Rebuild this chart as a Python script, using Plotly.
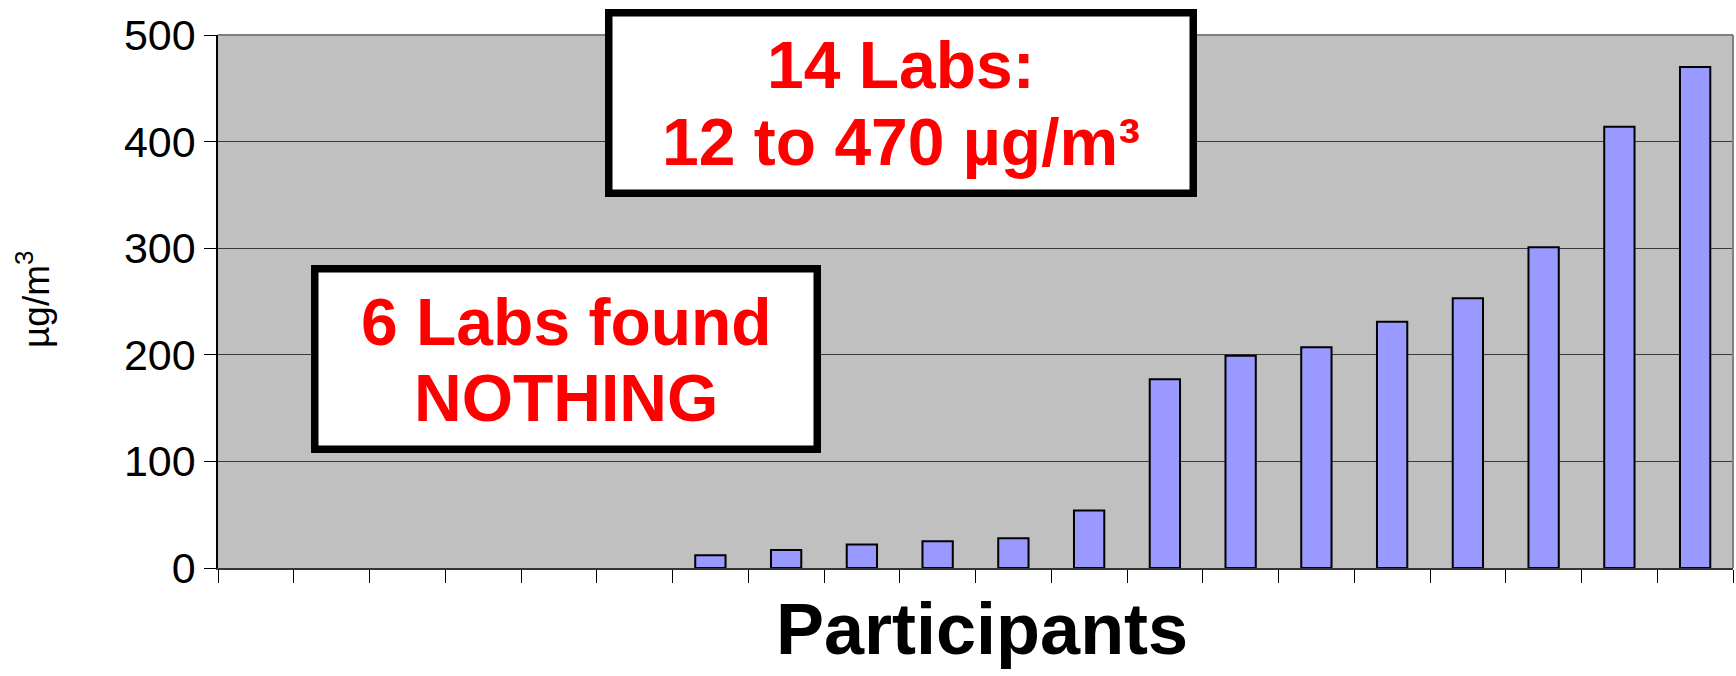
import plotly.graph_objects as go

# Participating laboratories (20) and their reported concentrations in µg/m³.
# Labs that found nothing have no value.
participants = [f"Lab {i}" for i in range(1, 21)]
concentrations = [None, None, None, None, None, None,
                  12, 17, 22, 25, 28, 54, 177, 199, 207, 231, 253, 301, 414, 470]
y_ticks = [0, 100, 200, 300, 400, 500]

FONT = "Liberation Sans, Arial, sans-serif"
W, H = 1736, 676
M_L, M_R, M_T, M_B = 218, 3, 35, 108
PW, PH = W - M_L - M_R, H - M_T - M_B


def px(x):
    """Horizontal pixel -> paper fraction."""
    return (x - M_L) / PW


def py(y):
    """Vertical pixel (from top) -> paper fraction."""
    return (H - M_B - y) / PH


found = [v for v in concentrations if v is not None]
n_found = len(found)
n_nothing = len(concentrations) - n_found

fig = go.Figure(
    go.Bar(
        x=participants,
        y=concentrations,
        width=0.4,
        marker=dict(color="#9999FF", line=dict(color="#000000", width=2)),
        showlegend=False,
    )
)

fig.update_layout(
    width=W,
    height=H,
    margin=dict(l=M_L, r=M_R, t=M_T, b=M_B, pad=0),
    paper_bgcolor="#FFFFFF",
    plot_bgcolor="#C0C0C0",
    font=dict(family=FONT, color="#000000"),
    xaxis=dict(
        type="category",
        categoryorder="array",
        categoryarray=participants,
        showticklabels=False,
        ticks="outside",
        tickson="boundaries",
        ticklen=13,
        tickcolor="#000000",
        tickwidth=1,
        showgrid=False,
        showline=True,
        linecolor="#333333",
        linewidth=1.5,
        zeroline=False,
    ),
    yaxis=dict(
        range=[0, 500],
        tickvals=y_ticks,
        ticks="outside",
        ticklen=12,
        tickcolor="#000000",
        tickwidth=1,
        tickfont=dict(size=43, family=FONT, color="#000000"),
        showgrid=True,
        gridcolor="#3a3a3a",
        gridwidth=1,
        showline=True,
        linecolor="#000000",
        linewidth=1.5,
        zeroline=False,
    ),
)

# top and right frame of the plot area
fig.add_shape(type="line", xref="paper", yref="paper", x0=0, x1=1, y0=1, y1=1,
              line=dict(color="#808080", width=2), layer="above")
fig.add_shape(type="line", xref="paper", yref="paper", x0=1, x1=1, y0=0, y1=1,
              line=dict(color="#808080", width=2), layer="above")

# callout boxes
BOX_LINE = 7.5
for (x0, y0, x1, y1) in [(605, 9, 1197, 197), (311, 265, 821, 453)]:
    h = BOX_LINE / 2
    fig.add_shape(
        type="rect", xref="paper", yref="paper",
        x0=px(x0 + h), x1=px(x1 - h), y0=py(y1 - h), y1=py(y0 + h),
        line=dict(color="#000000", width=BOX_LINE),
        fillcolor="#FFFFFF", layer="above",
    )

red = dict(family=FONT, size=66, color="#FF0000")
callouts = [
    (f"<b>{n_found} Labs:</b>", 901, 65.5),
    (f"<b>{min(found)} to {max(found)} µg/m³</b>", 901, 141.5),
    (f"<b>{n_nothing} Labs found</b>", 566, 322),
    ("<b>NOTHING</b>", 566, 398),
]
for text, cx, cy in callouts:
    fig.add_annotation(text=text, xref="paper", yref="paper", x=px(cx), y=py(cy),
                       xanchor="center", yanchor="middle", showarrow=False, font=red)

# axis titles
fig.add_annotation(text="<b>Participants</b>", xref="paper", yref="paper",
                   x=px(982), y=py(629), xanchor="center", yanchor="middle",
                   showarrow=False, font=dict(family=FONT, size=72, color="#000000"))
fig.add_annotation(text="µg/m<sup>3</sup>", xref="paper", yref="paper",
                   x=px(33), y=py(300), xanchor="center", yanchor="middle",
                   textangle=-90, showarrow=False,
                   font=dict(family=FONT, size=37, color="#000000"))

fig.write_html("out.html")
